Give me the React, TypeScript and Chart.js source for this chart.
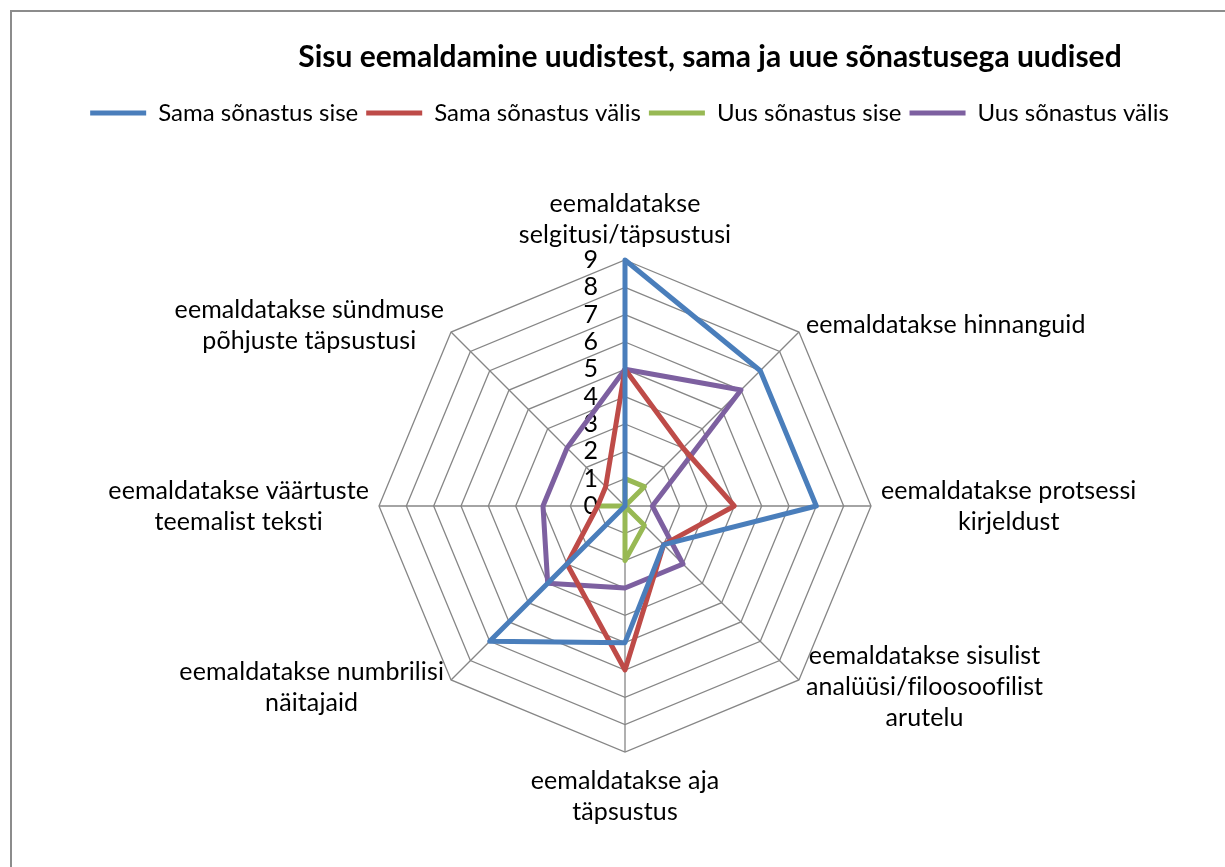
import { useEffect, useRef } from "react";
import { Chart, registerables } from "chart.js";
Chart.register(...registerables);

const chartTitle = "Sisu eemaldamine uudistest, sama ja uue sõnastusega uudised";

const categories: string[][] = [
  ["eemaldatakse", "selgitusi/täpsustusi"],
  ["eemaldatakse hinnanguid"],
  ["eemaldatakse protsessi", "kirjeldust"],
  ["eemaldatakse sisulist", "analüüsi/filoosoofilist", "arutelu"],
  ["eemaldatakse aja", "täpsustus"],
  ["eemaldatakse numbrilisi", "näitajaid"],
  ["eemaldatakse väärtuste", "teemalist teksti"],
  ["eemaldatakse sündmuse", "põhjuste täpsustusi"],
];

const seriesNames = [
  "Sama sõnastus sise",
  "Sama sõnastus välis",
  "Uus sõnastus sise",
  "Uus sõnastus välis",
];
const samaSise = [9, 7, 7, 2, 5, 7, 0, 0];
const samaValis = [5, 3, 4, 2, 6, 3, 1, 1];
const uusSise = [1, 1, 0, 1, 2, 0, 1, 0];
const uusValis = [5, 6, 1, 3, 3, 4, 3, 3];

const axisMin = 0;
const axisMax = 9;
const axisStep = 1;

const colors = ["#4A7EBB", "#BE4B48", "#98B954", "#7D60A0"];
const FONT = "Lato, 'Liberation Sans', sans-serif";
const LABEL_SIZE = 25;
const LEGEND_SIZE = 24;
const GRID = "#868686";

const bgPlugin = {
  id: "bgBorder",
  beforeDraw(chart: any) {
    const ctx = chart.ctx;
    ctx.save();
    ctx.fillStyle = "#ffffff";
    ctx.fillRect(0, 0, chart.width, chart.height);
    ctx.strokeStyle = "#8c8c8c";
    ctx.lineWidth = 2;
    ctx.strokeRect(11, 11, chart.width + 40, chart.height + 40);
    ctx.restore();
  },
};

const titlePlugin = {
  id: "customTitle",
  afterDraw(chart: any) {
    const ctx = chart.ctx;
    ctx.save();
    ctx.font = `bold 30px ${FONT}`;
    ctx.fillStyle = "#000";
    ctx.textAlign = "center";
    ctx.textBaseline = "middle";
    ctx.fillText(chartTitle, 710, 57);
    ctx.restore();
  },
};

const tickPlugin = {
  id: "tickLabels",
  beforeDatasetsDraw(chart: any) {
    const s = chart.scales.r;
    const ctx = chart.ctx;
    ctx.save();
    ctx.font = `${LABEL_SIZE}px ${FONT}`;
    ctx.fillStyle = "#000";
    ctx.textAlign = "right";
    ctx.textBaseline = "middle";
    s.ticks.forEach((t: any) => {
      const d = s.getDistanceFromCenterForValue(t.value);
      ctx.fillText(String(t.value), s.xCenter - 27, s.yCenter - d);
    });
    ctx.restore();
  },
};

const pointLabelPlugin = {
  id: "pointLabelsCustom",
  afterDraw(chart: any) {
    const s = chart.scales.r;
    const ctx = chart.ctx;
    const lh = 31;
    ctx.save();
    ctx.font = `${LABEL_SIZE}px ${FONT}`;
    try {
      (ctx as any).letterSpacing = "0.1px";
    } catch (e) {
      /* ignore */
    }
    ctx.fillStyle = "#000";
    ctx.textAlign = "center";
    ctx.textBaseline = "middle";
    categories.forEach((lines, i) => {
      const p = s.getPointPosition(i, s.drawingArea + 10);
      const deg = Math.round(((s.getIndexAngle(i) * 180) / Math.PI) % 360);
      const w = Math.max(...lines.map((l) => ctx.measureText(l).width));
      const h = lines.length * lh;
      let cx = p.x;
      if (deg > 0 && deg < 180) cx = p.x + w / 2;
      else if (deg > 180) cx = p.x - w / 2;
      let top = p.y - h / 2;
      if (deg === 0) top = p.y - h;
      else if (deg === 180) top = p.y + 3;
      lines.forEach((l, k) => ctx.fillText(l, cx, top + lh * (k + 0.5)));
    });
    ctx.restore();
  },
};

export default function App() {
  const ref = useRef<HTMLCanvasElement>(null);
  useEffect(() => {
    const allSeries = [samaSise, samaValis, uusSise, uusValis];
    const chart = new Chart(ref.current as HTMLCanvasElement, {
      type: "radar",
      data: {
        labels: categories.map((c) => c.join(" ")),
        datasets: allSeries.map((d, i) => ({
          label: seriesNames[i],
          data: d,
          borderColor: colors[i],
          backgroundColor: colors[i],
          borderWidth: 5,
          pointRadius: 0,
          pointHoverRadius: 0,
          fill: false,
          tension: 0,
          borderJoinStyle: "round" as const,
        })),
      },
      options: {
        responsive: false,
        animation: false,
        layout: { padding: { top: 93, left: 34, right: 0, bottom: 0 } },
        plugins: {
          title: { display: false },
          tooltip: { enabled: false },
          legend: {
            display: true,
            position: "top",
            labels: {
              usePointStyle: true,
              pointStyle: "line",
              pointStyleWidth: 56,
              padding: 8,
              color: "#000",
              font: { family: FONT, size: LEGEND_SIZE },
            },
          },
        },
        scales: {
          r: {
            min: axisMin,
            max: axisMax,
            ticks: { stepSize: axisStep, display: false },
            grid: { color: GRID, lineWidth: 1.3 },
            angleLines: { color: GRID, lineWidth: 1.3 },
            pointLabels: { display: false },
            afterFit: (s: any) => {
              s.xCenter = 625;
              s.yCenter = 506;
              s.drawingArea = 246;
            },
          },
        },
      },
      plugins: [bgPlugin, titlePlugin, tickPlugin, pointLabelPlugin],
    });
    return () => chart.destroy();
  }, []);
  return (
    <div style={{ position: "fixed", left: 0, top: 0, width: 1225, height: 867, background: "#fff" }}>
      <canvas ref={ref} width={1225} height={867} style={{ display: "block" }} />
    </div>
  );
}
